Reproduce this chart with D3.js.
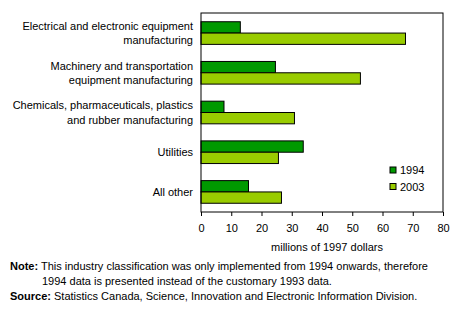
<!DOCTYPE html>
<html>
<head>
<meta charset="utf-8">
<script src="https://cdn.jsdelivr.net/npm/d3@7"></script>
<style>
  body { margin: 0; background: #fff; }
  svg text { font-family: "Liberation Sans", Arial, sans-serif; fill: #000; }
</style>
</head>
<body>
<svg id="chart" width="458" height="322"></svg>
<script>
// chart data
var categories = [
    ['Electrical and electronic equipment', 'manufacturing'],
    ['Machinery and transportation', 'equipment manufacturing'],
    ['Chemicals, pharmaceuticals, plastics', 'and rubber manufacturing'],
    ['Utilities'],
    ['All other']
];
var series = ['1994', '2003'];
var values1994 = [13, 24.6, 7.6, 33.8, 15.7];
var values2003 = [67.6, 52.7, 30.9, 25.6, 26.6];
var xTicks = [0, 10, 20, 30, 40, 50, 60, 70, 80];
var colors = ['#009900', '#99cc00'];

(function(){
    var svg = d3.select('#chart'),
        pl = 201, pr = 443, pt = 13, pb = 212;

    var x = d3.scaleLinear().domain([0, 80]).range([pl, pr]);
    var y = d3.scaleBand().domain(d3.range(categories.length)).range([pt, pb]).paddingInner(0.43).paddingOuter(0.22);
    var ySeries = d3.scaleBand().domain(series).range([0, y.bandwidth()]);

    var rows = categories.map(function(c, i){
        return { label: c, vals: [values1994[i], values2003[i]] };
    });

    // bars
    var g = svg.selectAll('g.cat').data(rows).enter().append('g')
        .attr('class', 'cat')
        .attr('transform', function(d, i){ return 'translate(0,' + y(i) + ')'; });

    g.selectAll('rect').data(function(d){ return d.vals; }).enter().append('rect')
        .attr('x', x(0))
        .attr('y', function(d, j){ return ySeries(series[j]); })
        .attr('width', function(d){ return x(d) - x(0); })
        .attr('height', ySeries.bandwidth())
        .attr('fill', function(d, j){ return colors[j]; })
        .attr('stroke', '#000')
        .attr('stroke-width', 1);

    // category labels
    g.each(function(d){
        var n = d.label.length, mid = y.bandwidth() / 2;
        d3.select(this).selectAll('text.lab').data(d.label).enter().append('text')
            .attr('class', 'lab')
            .attr('x', 193)
            .attr('y', function(t, k){ return mid + (k - (n - 1) / 2) * 14.5 + 4; })
            .attr('text-anchor', 'end')
            .style('font-size', '11px')
            .text(function(t){ return t; });
    });

    // frame
    svg.append('rect')
        .attr('x', pl).attr('y', pt)
        .attr('width', pr - pl).attr('height', pb - pt)
        .attr('fill', 'none').attr('stroke', '#000');

    // x axis
    var xAxis = svg.append('g')
        .attr('transform', 'translate(0,' + pb + ')')
        .call(d3.axisBottom(x).tickValues(xTicks).tickSize(4).tickPadding(8));
    xAxis.select('.domain').remove();
    xAxis.selectAll('text').style('font-size', '11px').attr('font-family', null);

    svg.append('text')
        .attr('x', 327).attr('y', 251)
        .attr('text-anchor', 'middle')
        .style('font-size', '11px')
        .text('millions of 1997 dollars');

    // legend
    var leg = svg.selectAll('g.leg').data(series).enter().append('g')
        .attr('class', 'leg')
        .attr('transform', function(d, i){ return 'translate(390,' + (167 + i * 16.5) + ')'; });
    leg.append('rect')
        .attr('width', 6).attr('height', 6)
        .attr('fill', function(d, i){ return colors[i]; })
        .attr('stroke', '#000');
    leg.append('text')
        .attr('x', 10).attr('y', 7)
        .style('font-size', '11px')
        .text(function(d){ return d; });

    // notes
    var note = svg.append('g').style('font-size', '11px');
    var t1 = note.append('text').attr('x', 10).attr('y', 270);
    t1.append('tspan').style('font-weight', 'bold').text('Note:');
    t1.append('tspan').text(' This industry classification was only implemented from 1994 onwards, therefore');
    note.append('text').attr('x', 42).attr('y', 285)
        .text('1994 data is presented instead of the customary 1993 data.');
    var t3 = note.append('text').attr('x', 10).attr('y', 300);
    t3.append('tspan').style('font-weight', 'bold').text('Source:');
    t3.append('tspan').text(' Statistics Canada, Science, Innovation and Electronic Information Division.');
})();
</script>
</body>
</html>
